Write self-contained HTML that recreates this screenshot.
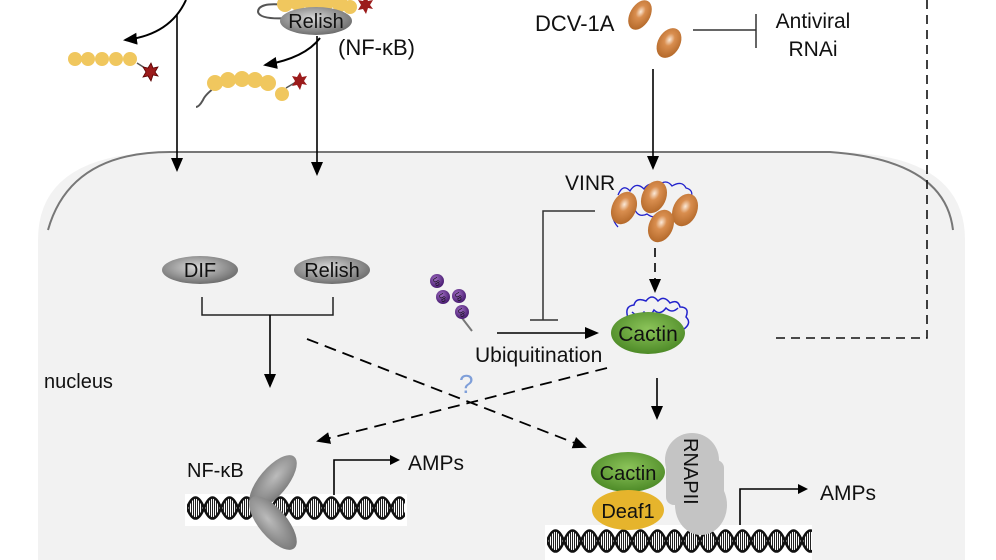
<!DOCTYPE html>
<html><head><meta charset="utf-8"><style>
html,body{margin:0;padding:0;background:#fff}
svg{display:block}
text{font-family:"Liberation Sans",Arial,sans-serif;fill:#111}
</style></head><body>
<svg width="996" height="560" viewBox="0 0 996 560" xmlns="http://www.w3.org/2000/svg">
<defs>
<radialGradient id="gG" cx="45%" cy="40%" r="60%"><stop offset="0" stop-color="#d8d8d8"/><stop offset="1" stop-color="#6e6e6e"/></radialGradient>
<radialGradient id="gGL" cx="45%" cy="40%" r="60%"><stop offset="0" stop-color="#bcbcbc"/><stop offset="1" stop-color="#7a7a7a"/></radialGradient>
<radialGradient id="gO" cx="45%" cy="40%" r="60%"><stop offset="0" stop-color="#fbe9d8"/><stop offset="0.35" stop-color="#d98e4f"/><stop offset="1" stop-color="#b56a2b"/></radialGradient>
<radialGradient id="gGr" cx="50%" cy="40%" r="60%"><stop offset="0" stop-color="#8cc45a"/><stop offset="1" stop-color="#4d8a27"/></radialGradient>
<radialGradient id="gP" cx="40%" cy="35%" r="60%"><stop offset="0" stop-color="#9c6ac0"/><stop offset="1" stop-color="#4f2277"/></radialGradient>
<pattern id="hatch" width="2" height="4" patternUnits="userSpaceOnUse"><rect width="1" height="4" fill="#222"/></pattern>
<pattern id="dna" x="187" y="494" width="17" height="28" patternUnits="userSpaceOnUse">
 <path d="M0 14 C5.5 -1 11.5 -1 17 14 C11.5 29 5.5 29 0 14Z" fill="url(#hatch)"/>
 <path d="M0 14 C5.5 0 11.5 0 17 14 M0 14 C5.5 28 11.5 28 17 14" fill="none" stroke="#111" stroke-width="2.6"/>
</pattern>
<pattern id="dna2" x="547" y="527" width="17" height="28" patternUnits="userSpaceOnUse">
 <path d="M0 14 C5.5 -1 11.5 -1 17 14 C11.5 29 5.5 29 0 14Z" fill="url(#hatch)"/>
 <path d="M0 14 C5.5 0 11.5 0 17 14 M0 14 C5.5 28 11.5 28 17 14" fill="none" stroke="#111" stroke-width="2.6"/>
</pattern>
<marker id="ah" markerWidth="10" markerHeight="10" refX="8" refY="5" orient="auto" markerUnits="userSpaceOnUse"><path d="M0 0 L10 5 L0 10Z" fill="#000"/></marker>
<marker id="ahs" markerWidth="14" markerHeight="12" refX="12" refY="6" orient="auto" markerUnits="userSpaceOnUse"><path d="M0 0 L14 6 L0 12Z" fill="#000"/></marker>
</defs>

<path d="M38 560 L38 240 Q38 152 170 152 L830 152 Q965 152 965 240 L965 560Z" fill="#f2f2f2"/>
<path d="M48 230 Q70 152 170 152 L830 152 Q945 160 953 230" fill="none" stroke="#777" stroke-width="2"/>

<path d="M927 0 L927 338 L773 338" fill="none" stroke="#111" stroke-width="1.6" stroke-dasharray="9,6"/>

<path d="M186 0 Q170 35 125 40" fill="none" stroke="#000" stroke-width="2" marker-end="url(#ahs)"/>
<line x1="177" y1="14" x2="177" y2="170" stroke="#000" stroke-width="1.6" marker-end="url(#ahs)"/>
<g fill="#f0c75e"><circle cx="75" cy="59" r="7"/><circle cx="88" cy="59" r="7"/><circle cx="102" cy="59" r="7"/><circle cx="116" cy="59" r="7"/><circle cx="130" cy="59" r="7"/></g>
<line x1="137" y1="63" x2="148" y2="70" stroke="#555" stroke-width="1.5"/>
<polygon points="151,63 153,68 158,67 155,72 158,76 153,75 151,81 148,76 143,77 146,72 143,67 148,68" fill="#9b1b1b" stroke="#5a0000" stroke-width="0.8"/>

<path d="M285 5 Q258 2 258 12 Q260 20 290 18" fill="none" stroke="#555" stroke-width="2"/>
<g fill="#f0c75e"><circle cx="285" cy="4" r="8"/><circle cx="298" cy="3" r="8"/><circle cx="312" cy="3" r="8"/><circle cx="326" cy="3" r="8"/><circle cx="340" cy="4" r="8"/><circle cx="350" cy="7" r="7"/></g>
<polygon points="366,-4 368,1 373,0 370,5 373,9 368,8 366,14 363,9 358,10 361,5 358,0 363,1" fill="#9b1b1b"/>
<ellipse cx="316" cy="21" rx="36" ry="14" fill="url(#gG)"/>
<text x="316" y="28" font-size="20" text-anchor="middle">Relish</text>
<text x="338" y="55" font-size="22">(NF-κB)</text>
<path d="M320 38 Q305 58 265 65" fill="none" stroke="#000" stroke-width="2" marker-end="url(#ahs)"/>
<line x1="317" y1="36" x2="317" y2="174" stroke="#000" stroke-width="1.6" marker-end="url(#ahs)"/>
<path d="M214 88 Q205 95 203 100 Q199 107 196 107" fill="none" stroke="#555" stroke-width="2"/>
<g fill="#f0c75e"><circle cx="215" cy="83" r="8"/><circle cx="228" cy="80" r="8"/><circle cx="242" cy="79" r="8"/><circle cx="255" cy="80" r="8"/><circle cx="268" cy="83" r="8"/><circle cx="282" cy="94" r="7"/></g>
<line x1="286" y1="88" x2="296" y2="82" stroke="#555" stroke-width="1.5"/>
<polygon points="300,72 302,77 307,76 304,81 307,85 302,84 300,90 297,85 292,86 295,81 292,76 297,77" fill="#9b1b1b"/>

<text x="535" y="31" font-size="22">DCV-1A</text>
<ellipse cx="640" cy="15" rx="10" ry="16" transform="rotate(30 640 15)" fill="url(#gO)"/>
<ellipse cx="669" cy="43" rx="11" ry="16" transform="rotate(30 669 43)" fill="url(#gO)"/>
<line x1="693" y1="30" x2="756" y2="30" stroke="#333" stroke-width="1.5"/>
<line x1="756" y1="14" x2="756" y2="48" stroke="#333" stroke-width="1.5"/>
<text x="813" y="28" font-size="21" text-anchor="middle">Antiviral</text>
<text x="813" y="56" font-size="21" text-anchor="middle">RNAi</text>
<line x1="653" y1="69" x2="653" y2="168" stroke="#000" stroke-width="1.6" marker-end="url(#ahs)"/>

<text x="565" y="190" font-size="21">VINR</text>
<path d="M618 195 q5 -12 12 -4 q6 -10 14 -2 q5 -8 14 -3 q8 -8 14 0 q10 -6 14 2 q8 2 5 10 q4 6 -4 10 q-3 8 -12 4 q-6 8 -14 2 q-6 6 -14 0 q-8 4 -12 -4 q-8 2 -8 -6 q-4 -6 2 -10 M612 215 q2 8 6 12" fill="none" stroke="#2222cc" stroke-width="1.3"/>
<ellipse cx="624" cy="208" rx="12" ry="17" transform="rotate(25 624 208)" fill="url(#gO)"/>
<ellipse cx="654" cy="197" rx="12" ry="17" transform="rotate(25 654 197)" fill="url(#gO)"/>
<ellipse cx="685" cy="210" rx="12" ry="17" transform="rotate(25 685 210)" fill="url(#gO)"/>
<ellipse cx="661" cy="226" rx="12" ry="17" transform="rotate(25 661 226)" fill="url(#gO)"/>
<path d="M595 211 L543 211 L543 320" fill="none" stroke="#333" stroke-width="1.5"/>
<line x1="530" y1="320" x2="558" y2="320" stroke="#333" stroke-width="1.5"/>
<line x1="655" y1="248" x2="655" y2="291" stroke="#000" stroke-width="1.6" stroke-dasharray="9,6" marker-end="url(#ahs)"/>

<path d="M628 318 q-4 -12 6 -13 q2 -8 12 -4 q6 -8 12 0 q6 -6 12 2 q8 -4 10 4 q10 0 6 10 q6 6 -2 12 M632 312 q6 6 12 0 q6 6 10 -2 q6 6 12 -2 q6 6 12 0" fill="none" stroke="#2222cc" stroke-width="1.5"/>
<ellipse cx="648" cy="333" rx="37" ry="21" fill="url(#gGr)"/>
<text x="648" y="341" font-size="21" text-anchor="middle">Cactin</text>

<line x1="462" y1="318" x2="472" y2="331" stroke="#777" stroke-width="2"/>
<g fill="url(#gP)"><circle cx="437" cy="281" r="7"/><circle cx="443" cy="297" r="7"/><circle cx="459" cy="296" r="7"/><circle cx="462" cy="312" r="7"/></g>
<g font-size="7" style="fill:#111"><text x="433" y="284" transform="rotate(60 437 281)">Ub</text><text x="439" y="300" transform="rotate(60 443 297)">Ub</text><text x="455" y="299" transform="rotate(60 459 296)">Ub</text><text x="458" y="315" transform="rotate(60 462 312)">Ub</text></g>
<line x1="497" y1="333" x2="597" y2="333" stroke="#000" stroke-width="1.6" marker-end="url(#ahs)"/>
<text x="475" y="362" font-size="21">Ubiquitination</text>
<text x="459" y="393" font-size="26" style="fill:#7f9fd9">?</text>

<ellipse cx="200" cy="270" rx="38" ry="14" fill="url(#gG)"/>
<text x="200" y="277" font-size="20" text-anchor="middle">DIF</text>
<ellipse cx="332" cy="270" rx="38" ry="14" fill="url(#gG)"/>
<text x="332" y="277" font-size="20" text-anchor="middle">Relish</text>
<path d="M202 297 L202 315 L333 315 L333 297" fill="none" stroke="#222" stroke-width="1.5"/>
<line x1="270" y1="315" x2="270" y2="386" stroke="#000" stroke-width="1.6" marker-end="url(#ahs)"/>
<text x="44" y="388" font-size="20">nucleus</text>

<line x1="307" y1="339" x2="585" y2="447" stroke="#000" stroke-width="1.8" stroke-dasharray="12,7" marker-end="url(#ahs)"/>
<line x1="607" y1="368" x2="318" y2="441" stroke="#000" stroke-width="1.8" stroke-dasharray="12,7" marker-end="url(#ahs)"/>
<line x1="657" y1="378" x2="657" y2="418" stroke="#000" stroke-width="1.6" marker-end="url(#ahs)"/>

<rect x="185" y="494" width="222" height="32" fill="#fff"/>
<rect x="187" y="494" width="218" height="28" fill="url(#dna)"/>
<text x="187" y="477" font-size="20">NF-κB</text>
<ellipse cx="273" cy="482" rx="14" ry="33" transform="rotate(40 273 482)" fill="url(#gGL)"/>
<ellipse cx="273" cy="523" rx="14" ry="33" transform="rotate(-40 273 523)" fill="url(#gGL)"/>
<path d="M334 495 L334 460 L398 460" fill="none" stroke="#000" stroke-width="1.6" marker-end="url(#ah)"/>
<text x="408" y="470" font-size="21">AMPs</text>

<rect x="545" y="525" width="267" height="35" fill="#fff"/>
<rect x="547" y="527" width="265" height="28" fill="url(#dna2)"/>
<ellipse cx="692" cy="460" rx="27" ry="27" fill="#c4c4c4"/>
<ellipse cx="701" cy="505" rx="26" ry="30" fill="#c4c4c4"/>
<rect x="666" y="460" width="58" height="45" fill="#c4c4c4" rx="8"/>
<text x="0" y="0" font-size="20" transform="translate(684 438) rotate(90)">RNAPII</text>
<ellipse cx="628" cy="472" rx="37" ry="20" fill="url(#gGr)"/>
<text x="628" y="480" font-size="20" text-anchor="middle">Cactin</text>
<ellipse cx="628" cy="510" rx="36" ry="20" fill="#e6b42c"/>
<text x="628" y="518" font-size="20" text-anchor="middle">Deaf1</text>
<path d="M740 525 L740 489 L806 489" fill="none" stroke="#000" stroke-width="1.6" marker-end="url(#ah)"/>
<text x="820" y="500" font-size="21">AMPs</text>
</svg>
</body></html>
